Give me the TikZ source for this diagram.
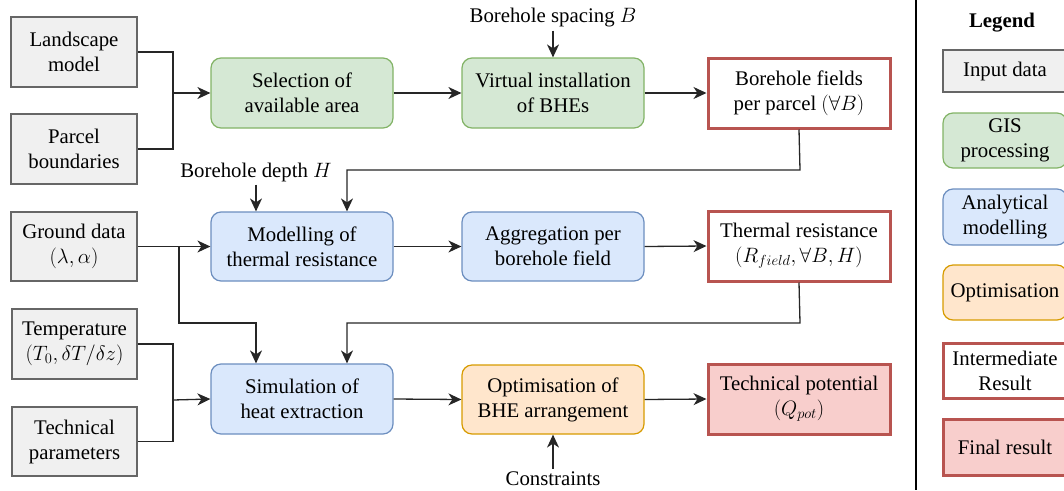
\documentclass[tikz,border=0pt]{standalone}
\usepackage{fix-cm}
\usepackage[no-math]{fontspec}
\setmainfont{Liberation Serif}
\usetikzlibrary{arrows.meta}
\definecolor{grayfill}{HTML}{F0F0F0}
\definecolor{graystroke}{HTML}{666666}
\definecolor{greenfill}{HTML}{D5E8D4}
\definecolor{greenstroke}{HTML}{82B366}
\definecolor{bluefill}{HTML}{DAE8FC}
\definecolor{bluestroke}{HTML}{6C8EBF}
\definecolor{orangefill}{HTML}{FFE6CC}
\definecolor{orangestroke}{HTML}{D79B00}
\definecolor{redfill}{HTML}{F8CECC}
\definecolor{redstroke}{HTML}{B85450}
\tikzset{
  box/.style={minimum width=#1, inner sep=0pt, align=center, font=\fontsize{20.8}{25}\selectfont},
  inputbox/.style={box=126pt, minimum height=70pt, draw=graystroke, fill=grayfill, line width=1.3pt},
  gisbox/.style={box=182pt, minimum height=70pt, draw=greenstroke, fill=greenfill, line width=1.2pt, rounded corners=10pt},
  anabox/.style={box=182pt, minimum height=70pt, draw=bluestroke, fill=bluefill, line width=1.2pt, rounded corners=10pt},
  optbox/.style={box=182pt, minimum height=70pt, draw=orangestroke, fill=orangefill, line width=1.2pt, rounded corners=10pt},
  interbox/.style={box=182pt, minimum height=70pt, draw=redstroke, fill=white, line width=3pt},
  finalbox/.style={box=182pt, minimum height=70pt, draw=redstroke, fill=redfill, line width=3pt},
  lbl/.style={inner sep=0pt, font=\fontsize{20.8}{25}\selectfont},
  conn/.style={line width=1.3pt, draw=black!85},
  arr/.style={conn, -{Stealth[length=13pt, width=12pt, inset=4pt]}},
}
\begin{document}
\begin{tikzpicture}[x=1pt, y=-1pt]
\useasboundingbox (0,0) rectangle (1064,490);
\clip (0,0) rectangle (1064,490);
% input boxes
\node[inputbox] (lm) at (74,52) {Landscape\\model};
\node[inputbox] (pb) at (74,149) {Parcel\\boundaries};
\node[inputbox, minimum height=69pt] (gd) at (74,246.5) {Ground data\\$(\lambda,\alpha)$};
\node[inputbox, minimum width=125pt] (temp) at (74.5,344) {Temperature\\$(T_0,\delta T/\delta z)$};
\node[inputbox, minimum width=125pt, minimum height=69pt] (tp) at (74.5,441.5) {Technical\\parameters};
% row 1
\node[gisbox] (sel) at (302,93) {Selection of\\available area};
\node[gisbox] (vi) at (553,93) {Virtual installation\\of BHEs};
\node[interbox] (bf) at (799,93) {Borehole fields\\per parcel $(\forall B)$};
% row 2
\node[anabox, minimum height=69pt] (mod) at (302,246.5) {Modelling of\\thermal resistance};
\node[anabox, minimum height=69pt] (agg) at (553,246.5) {Aggregation per\\borehole field};
\node[interbox] (tr) at (799,246) {Thermal resistance\\$(R_{field},\forall B,H)$};
% row 3
\node[anabox] (sim) at (302,399) {Simulation of\\heat extraction};
\node[optbox, minimum height=69pt] (opt) at (553,399.5) {Optimisation of\\BHE arrangement};
\node[finalbox] (pot) at (799,399) {Technical potential\\$(Q_{pot})$};
% labels
\node[lbl] (spacing) at (553,18) {Borehole spacing $B$};
\node[lbl] (depth) at (256,172) {Borehole depth $H$};
\node[lbl] (cons) at (553,479) {Constraints};
% junctions
\coordinate (j1) at (173,93);
\coordinate (j2) at (173,400);
\coordinate (b1) at (179,247);
\coordinate (c1) at (800,170);
\coordinate (c2) at (800,323);
\coordinate (b2) at (179,323);
% connectors
\draw[conn] (lm.east) -| (j1);
\draw[conn] (pb.east) -| (j1);
\draw[arr] (j1) -- (sel.west);
\draw[arr] (sel.east) -- (vi.west);
\draw[arr] (vi.east) -- (bf.west);
\draw[arr] (spacing.south) ++(0,3) -- (vi.north);
\draw[arr] (bf.south) -- (c1) -| ([xshift=45pt]mod.north);
\draw[arr] (depth.south) ++(0,3) -- ([xshift=-46pt]mod.north);
\draw[arr] (gd.east) -- (mod.west);
\draw[arr] (b1) -- (b2) -| ([xshift=-46pt]sim.north);
\draw[arr] (mod.east) -- (agg.west);
\draw[arr] (agg.east) -- (tr.west);
\draw[arr] (tr.south) -- (c2) -| ([xshift=45pt]sim.north);
\draw[conn] (temp.east) -| (j2);
\draw[conn] (tp.east) -| (j2);
\draw[arr] (j2) -- (sim.west);
\draw[arr] (sim.east) -- (opt.west);
\draw[arr] (opt.east) -- (pot.west);
\draw[arr] (cons.north) ++(0,-3) -- (opt.south);
% legend
\coordinate (lt) at (916,0);
\coordinate (lb) at (916,490);
\draw[line width=1.3pt] (lt) -- (lb);
\node[lbl, font=\fontsize{20.8}{25}\selectfont\bfseries] (legend) at (1002,23) {Legend};
\node[inputbox, minimum width=124pt, minimum height=42pt] (l1) at (1005,71) {Input data};
\node[gisbox, minimum width=124pt, minimum height=55pt] (l2) at (1005,140.5) {GIS\\processing};
\node[anabox, minimum width=124pt, minimum height=56pt] (l3) at (1005,217) {Analytical\\modelling};
\node[optbox, minimum width=124pt, minimum height=55pt] (l4) at (1005,292.5) {Optimisation};
\node[interbox, minimum width=124pt, minimum height=55pt] (l5) at (1005,370.5) {Intermediate\\Result};
\node[finalbox, minimum width=124pt, minimum height=56pt] (l6) at (1005,447) {Final result};
\end{tikzpicture}
\end{document}
